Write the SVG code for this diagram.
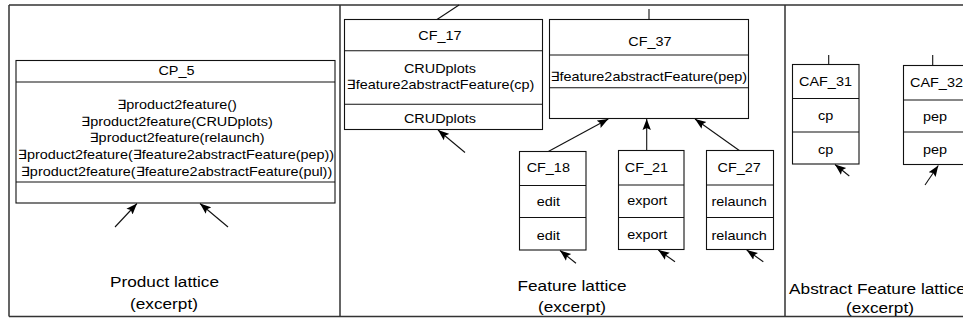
<svg xmlns="http://www.w3.org/2000/svg" width="963" height="321" viewBox="0 0 963 321">
<style>
text{font-family:"Liberation Sans",Arial,"DejaVu Sans",sans-serif;font-size:13px;fill:#000;text-anchor:middle;transform-box:fill-box;transform-origin:center;transform:scaleX(1.11)}
text.lbl{font-size:15.5px}
.box rect{fill:#fff;stroke:#111;stroke-width:1.1}
.box line{stroke:#111;stroke-width:1.1}
.frame{fill:none;stroke:#333;stroke-width:1.5}
#connectors line{stroke:#111;stroke-width:1.1}
#connectors line.arr{marker-end:url(#ah)}
</style>
<defs>
<marker id="ah" markerUnits="userSpaceOnUse" markerWidth="12" markerHeight="10" refX="11" refY="5" orient="auto">
<path d="M0,0.8 L11,5 L0,9.2 L2,5 Z" fill="#000"/>
</marker>
</defs>
<rect width="963" height="321" fill="#fff"/>
<g id="frames">
<path class="frame" d="M9,5 H970 M9,5 V316.5 M9,316.5 H970 M340,5 V316.5 M785,5 V316.5"/>
</g>
<g id="connectors">
<line class="arr" x1="115" y1="227" x2="137" y2="203.5"/>
<line class="arr" x1="228" y1="227" x2="200" y2="203.5"/>
<line class="arr" x1="465" y1="152.5" x2="438" y2="130"/>
<line class="arr" x1="548.3" y1="151.5" x2="608.3" y2="119"/>
<line class="arr" x1="646.7" y1="150.5" x2="646.7" y2="119"/>
<line class="arr" x1="739.3" y1="150.5" x2="695" y2="119"/>
<line class="arr" x1="576" y1="263.3" x2="560" y2="250.5"/>
<line class="arr" x1="675" y1="261.7" x2="658.3" y2="250"/>
<line class="arr" x1="763.3" y1="261.7" x2="746.7" y2="250"/>
<line class="arr" x1="849.3" y1="176" x2="835" y2="164.5"/>
<line class="arr" x1="925" y1="185" x2="938.3" y2="165.5"/>
<line x1="437" y1="19.5" x2="459" y2="5"/>
<line x1="649" y1="9" x2="649" y2="19.5"/>
<line x1="828.7" y1="55" x2="828.7" y2="64.5"/>
<line x1="932.7" y1="55" x2="932.7" y2="65.5"/>
</g>
<g id="CP_5" class="box">
<rect x="16" y="60.5" width="319" height="142.5"/>
<line x1="16" y1="82" x2="335" y2="82"/>
<line x1="16" y1="182" x2="335" y2="182"/>
<text x="176.5" y="75">CP_5</text>
<text x="177" y="109">∃product2feature()</text>
<text x="177" y="125.7">∃product2feature(CRUDplots)</text>
<text x="177" y="142.3">∃product2feature(relaunch)</text>
<text x="176" y="159">∃product2feature(∃feature2abstractFeature(pep))</text>
<text x="176.5" y="175.6">∃product2feature(∃feature2abstractFeature(pul))</text>
</g>
<g id="CF_17" class="box">
<rect x="344.5" y="19.5" width="198" height="110"/>
<line x1="344.5" y1="50.7" x2="542.5" y2="50.7"/>
<line x1="344.5" y1="104.3" x2="542.5" y2="104.3"/>
<text x="440" y="39.8">CF_17</text>
<text x="440" y="73">CRUDplots</text>
<text x="440.5" y="89.5">∃feature2abstractFeature(cp)</text>
<text x="440" y="123">CRUDplots</text>
</g>
<g id="CF_37" class="box">
<rect x="549.5" y="19.5" width="199" height="99"/>
<line x1="549.5" y1="55" x2="748.5" y2="55"/>
<line x1="549.5" y1="87.7" x2="748.5" y2="87.7"/>
<text x="650" y="46.5">CF_37</text>
<text x="648.7" y="81">∃feature2abstractFeature(pep)</text>
</g>
<g id="CF_18" class="box">
<rect x="519.5" y="151.5" width="66.5" height="98.5"/>
<line x1="519.5" y1="185.5" x2="586" y2="185.5"/>
<line x1="519.5" y1="217.5" x2="586" y2="217.5"/>
<text x="548.3" y="172.3">CF_18</text>
<text x="548.3" y="206.3">edit</text>
<text x="548.3" y="240.3">edit</text>
</g>
<g id="CF_21" class="box">
<rect x="618.5" y="150.5" width="65.5" height="99"/>
<line x1="618.5" y1="185" x2="684" y2="185"/>
<line x1="618.5" y1="217.5" x2="684" y2="217.5"/>
<text x="646.5" y="171.7">CF_21</text>
<text x="647.3" y="205.5">export</text>
<text x="647.3" y="239.5">export</text>
</g>
<g id="CF_27" class="box">
<rect x="706.5" y="150.5" width="67" height="99"/>
<line x1="706.5" y1="185" x2="773.5" y2="185"/>
<line x1="706.5" y1="217.5" x2="773.5" y2="217.5"/>
<text x="739.2" y="171.7">CF_27</text>
<text x="739.2" y="206">relaunch</text>
<text x="739.2" y="240">relaunch</text>
</g>
<g id="CAF_31" class="box">
<rect x="792.5" y="64.5" width="66.5" height="99.5"/>
<line x1="792.5" y1="98.5" x2="859" y2="98.5"/>
<line x1="792.5" y1="132" x2="859" y2="132"/>
<text x="825.5" y="86.5">CAF_31</text>
<text x="825.7" y="120.5">cp</text>
<text x="825.7" y="153.7">cp</text>
</g>
<g id="CAF_32" class="box">
<rect x="903.5" y="65.5" width="66" height="99"/>
<line x1="903.5" y1="100" x2="969.5" y2="100"/>
<line x1="903.5" y1="132" x2="969.5" y2="132"/>
<text x="936.5" y="87">CAF_32</text>
<text x="935" y="121">pep</text>
<text x="935" y="154.5">pep</text>
</g>
<g id="labels">
<text class="lbl" x="164.5" y="287">Product lattice</text>
<text class="lbl" x="164" y="309">(excerpt)</text>
<text class="lbl" x="572" y="290.7">Feature lattice</text>
<text class="lbl" x="572" y="312">(excerpt)</text>
<text class="lbl" x="877.5" y="294">Abstract Feature lattice</text>
<text class="lbl" x="880" y="313.5">(excerpt)</text>
</g>
</svg>
